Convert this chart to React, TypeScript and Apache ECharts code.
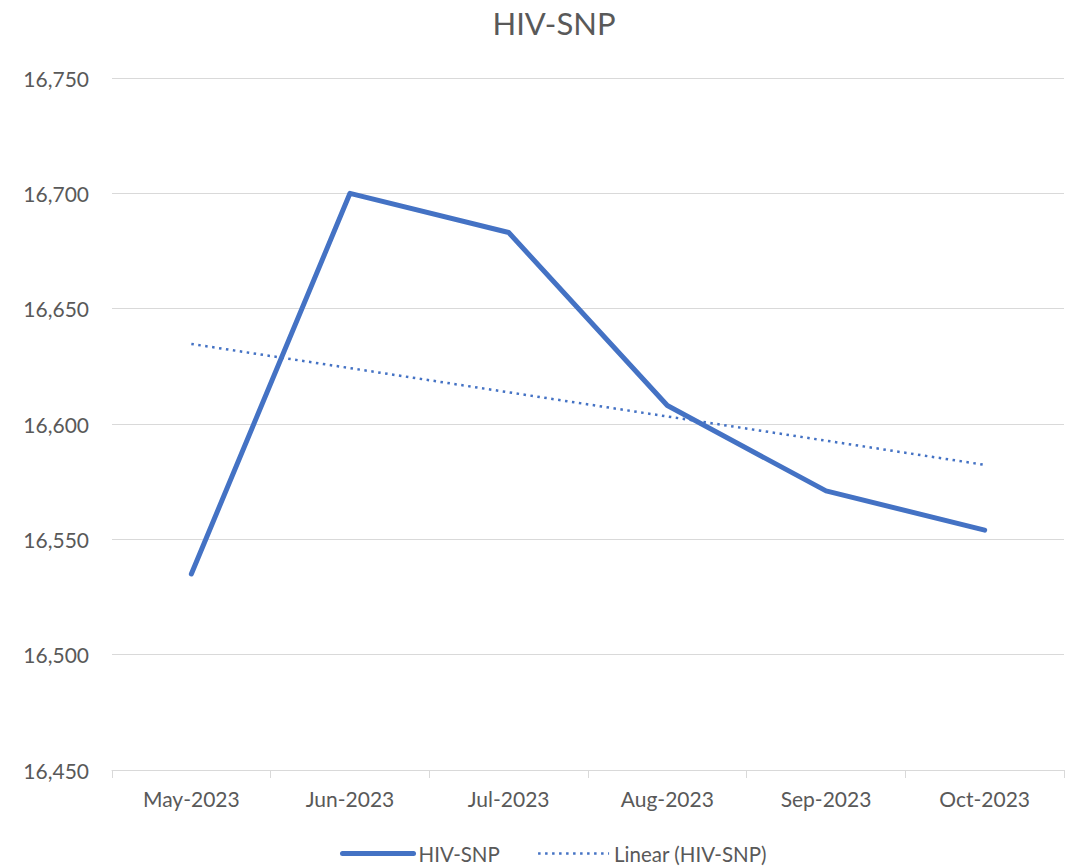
import React, { useEffect, useRef } from "react";
import * as echarts from "echarts";

const categories = ["May-2023", "Jun-2023", "Jul-2023", "Aug-2023", "Sep-2023", "Oct-2023"];
const seriesValues = [16535, 16700, 16683, 16608, 16571, 16554];
const yTicks = { min: 16450, max: 16750, interval: 50 };

function linearTrend(values: number[]): number[] {
  const n = values.length;
  const xs = values.map((_, i) => i + 1);
  const mx = xs.reduce((a, b) => a + b, 0) / n;
  const my = values.reduce((a, b) => a + b, 0) / n;
  let sxy = 0;
  let sxx = 0;
  for (let i = 0; i < n; i++) {
    sxy += (xs[i] - mx) * (values[i] - my);
    sxx += (xs[i] - mx) * (xs[i] - mx);
  }
  const slope = sxy / sxx;
  return xs.map((x) => +(my + slope * (x - mx)).toFixed(2));
}

const FONT = "Lato";
const TEXT = "#595959";
const BLUE = "#4472C4";
const GRID = "#d9d9d9";

export default function App() {
  const ref = useRef<HTMLDivElement>(null);
  useEffect(() => {
    if (!ref.current) return;
    const chart = echarts.init(ref.current, undefined, { renderer: "svg" });
    chart.setOption({
      animation: false,
      backgroundColor: "#ffffff",
      title: {
        text: "HIV-SNP",
        left: 549,
        top: 2,
        textAlign: "center",
        textStyle: { fontFamily: FONT, fontSize: 31, fontWeight: "normal", color: TEXT },
      },
      grid: { left: 112, right: 7, top: 78, bottom: 97, containLabel: false },
      legend: {
        left: 335,
        top: 838,
        itemWidth: 71,
        itemHeight: 14,
        itemGap: 37,
        itemStyle: { opacity: 0 },
        textStyle: { fontFamily: FONT, fontSize: 20.5, color: TEXT },
        data: [
          { name: "HIV-SNP", itemStyle: { opacity: 0 }, lineStyle: { width: 5, color: BLUE, cap: "round" } },
          { name: "Linear (HIV-SNP)", itemStyle: { opacity: 0 }, lineStyle: { width: 2.5, color: BLUE, type: [2.5, 4.5] } },
        ],
      },
      xAxis: {
        type: "category",
        data: categories,
        boundaryGap: true,
        axisLine: { show: true, lineStyle: { color: GRID, width: 1 } },
        axisTick: { show: true, length: 8, lineStyle: { color: GRID } },
        axisLabel: { fontFamily: FONT, fontSize: 21, color: TEXT, margin: 18 },
        splitLine: { show: false },
      },
      yAxis: {
        type: "value",
        min: yTicks.min,
        max: yTicks.max,
        interval: yTicks.interval,
        axisLine: { show: false },
        axisTick: { show: false },
        axisLabel: {
          fontFamily: FONT,
          fontSize: 21,
          color: TEXT,
          margin: 23,
          formatter: (v: number) => v.toLocaleString("en-US"),
        },
        splitLine: { show: true, lineStyle: { color: GRID, width: 1 } },
      },
      series: [
        {
          name: "HIV-SNP",
          type: "line",
          data: seriesValues,
          symbol: "none",
          lineStyle: { color: BLUE, width: 5, join: "round", cap: "round" },
          itemStyle: { color: BLUE },
          z: 3,
        },
        {
          name: "Linear (HIV-SNP)",
          type: "line",
          data: linearTrend(seriesValues),
          symbol: "none",
          lineStyle: { color: BLUE, width: 2.5, type: [2.5, 4.5] },
          itemStyle: { color: BLUE },
          z: 2,
        },
      ],
    });
    return () => chart.dispose();
  }, []);
  return (
    <div
      ref={ref}
      style={{ position: "fixed", left: 0, top: 0, width: 1071, height: 867, background: "#fff" }}
    />
  );
}
